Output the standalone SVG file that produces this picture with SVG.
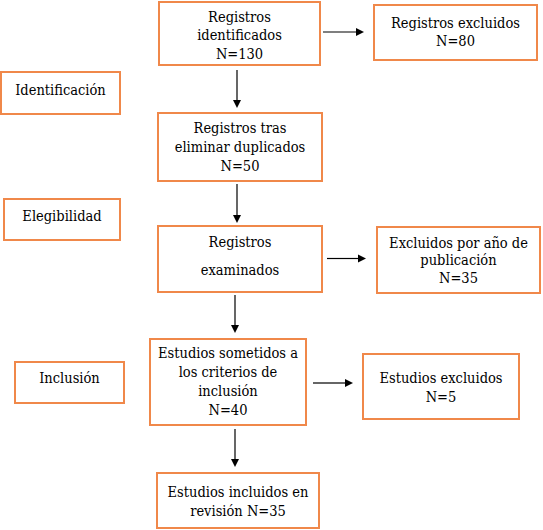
<svg xmlns="http://www.w3.org/2000/svg" width="543" height="530" viewBox="0 0 543 530">
<style>
.box{fill:#fff;stroke:#F0884A;stroke-width:2}
text{font-family:'DejaVu Serif Condensed','DejaVu Serif','Liberation Serif',serif;font-stretch:condensed;font-size:14.5px;fill:#000;text-anchor:middle}
.c{stroke:#000;stroke-width:1.2;fill:none;marker-end:url(#ah)}
</style>
<defs>
<marker id="ah" viewBox="0 0 10 10" refX="0" refY="5" markerUnits="userSpaceOnUse" markerWidth="8" markerHeight="9" orient="auto">
<path d="M0,0 L10,5 L0,10 z" fill="#000"/>
</marker>
</defs>
<rect width="543" height="530" fill="#fff"/>
<g id="n-identificados"><rect class="box" x="159" y="2" width="161" height="63"/>
<text x="239.5" y="22">Registros</text><text x="239.5" y="40">identificados</text><text x="239.5" y="59">N=130</text></g>
<g id="n-excluidos1"><rect class="box" x="374" y="5" width="163" height="55"/>
<text x="455.5" y="28">Registros excluidos</text><text x="455.5" y="46">N=80</text></g>
<g id="n-identificacion"><rect class="box" x="1" y="72" width="119" height="42"/>
<text x="60.5" y="95">Identificación</text></g>
<g id="n-duplicados"><rect class="box" x="158" y="113" width="164" height="68"/>
<text x="240" y="133">Registros tras</text><text x="240" y="152">eliminar duplicados</text><text x="240" y="171">N=50</text></g>
<g id="n-elegibilidad"><rect class="box" x="4" y="199" width="116" height="41"/>
<text x="62" y="221">Elegibilidad</text></g>
<g id="n-examinados"><rect class="box" x="158" y="226" width="164" height="66"/>
<text x="240" y="247">Registros</text><text x="240" y="275">examinados</text></g>
<g id="n-excluidos2"><rect class="box" x="377" y="227" width="163" height="66"/>
<text x="458.5" y="248">Excluidos por año de</text><text x="458.5" y="265">publicación</text><text x="458.5" y="283">N=35</text></g>
<g id="n-inclusion"><rect class="box" x="15" y="362" width="109" height="41"/>
<text x="69.5" y="383">Inclusión</text></g>
<g id="n-sometidos"><rect class="box" x="150" y="339" width="156" height="86"/>
<text x="228" y="358">Estudios sometidos a</text><text x="228" y="377">los criterios de</text><text x="228" y="396">inclusión</text><text x="228" y="415">N=40</text></g>
<g id="n-excluidos3"><rect class="box" x="363" y="354" width="156" height="65"/>
<text x="441" y="383">Estudios excluidos</text><text x="441" y="402">N=5</text></g>
<g id="n-incluidos"><rect class="box" x="157" y="473" width="162" height="55"/>
<text x="238" y="497">Estudios incluidos en</text><text x="238" y="516">revisión N=35</text></g>
<g id="connectors">
<line class="c" x1="323" y1="32" x2="356" y2="32"/>
<line class="c" x1="237" y1="70" x2="237" y2="100"/>
<line class="c" x1="237" y1="184" x2="237" y2="215"/>
<line class="c" x1="327" y1="258.5" x2="358" y2="258.5"/>
<line class="c" x1="235" y1="295" x2="235" y2="325"/>
<line class="c" x1="313" y1="383" x2="345" y2="383"/>
<line class="c" x1="235" y1="429" x2="235" y2="459"/>
</g>
</svg>
